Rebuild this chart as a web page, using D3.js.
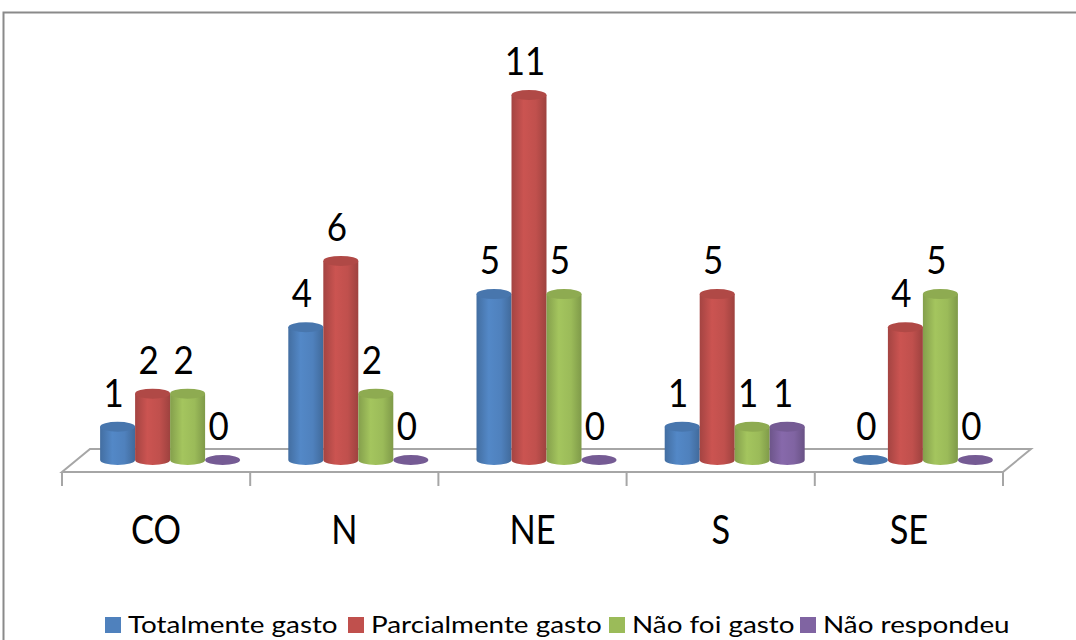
<!DOCTYPE html>
<html>
<head>
<meta charset="utf-8">
<script src="https://cdn.jsdelivr.net/npm/d3@7"></script>
<style>
  html, body { margin: 0; padding: 0; background: #fff; }
  svg { display: block; }
</style>
</head>
<body>
<div id="chart"></div>
<script>
(function () {
    'use strict';
    var w = 1076;
    var h = 640;

    // data
    var categories = ["CO", "N", "NE", "S", "SE"];
    var seriesNames = ["Totalmente gasto", "Parcialmente gasto", "Não foi gasto", "Não respondeu"];
    var totalmente = [1, 4, 5, 1, 0];
    var parcialmente = [2, 6, 11, 5, 4];
    var naoFoi = [2, 2, 5, 1, 5];
    var naoRespondeu = [0, 0, 0, 1, 0];
    var colors = ["#4F81BD", "#C0504D", "#9BBB59", "#8064A2"];

    var seriesValues = [totalmente, parcialmente, naoFoi, naoRespondeu];
    var font = "Lato, 'Open Sans', sans-serif";

    var svg = d3.select("#chart")
        .append("svg")
        .attr("width", w)
        .attr("height", h);

    // chart border (runs off the right/bottom edge)
    svg.append("rect")
        .attr("x", 3.5).attr("y", 12.5)
        .attr("width", 1120).attr("height", 700)
        .attr("fill", "none")
        .attr("stroke", "#8a8a8a")
        .attr("stroke-width", 2);

    // floor geometry
    var front = 472, back = 449, depthX = 28;
    var x = d3.scaleBand().domain(categories).range([62, 1003]);
    var y = d3.scaleLinear().domain([0, 11]).range([460, 95]);

    var floorPts = [[62, front], [1003, front], [1003 + depthX, back], [62 + depthX, back]];
    svg.append("path")
        .attr("d", d3.line()(floorPts) + "Z")
        .attr("fill", "#fff")
        .attr("stroke", "#a6a6a6")
        .attr("stroke-width", 2);

    // category axis ticks
    var tickPos = categories.map(function (c) { return x(c); }).concat([x.range()[1]]);
    svg.selectAll("line.tick")
        .data(tickPos)
        .enter().append("line")
        .attr("class", "tick")
        .attr("x1", function (d) { return d; })
        .attr("x2", function (d) { return d; })
        .attr("y1", front)
        .attr("y2", front + 14)
        .attr("stroke", "#a6a6a6")
        .attr("stroke-width", 2);

    svg.selectAll("text.cat")
        .data(categories)
        .enter().append("text")
        .attr("class", "cat")
        .attr("transform", function (d) {
            return "translate(" + (x(d) + x.bandwidth() / 2) + ",544) scale(0.86,1)";
        })
        .attr("text-anchor", "middle")
        .attr("font-family", font)
        .attr("font-size", "40px")
        .attr("fill", "#000")
        .text(function (d) { return d; });

    // gradients for cylinders
    var defs = svg.append("defs");
    colors.forEach(function (c, i) {
        var base = d3.color(c);
        var g = defs.append("linearGradient")
            .attr("id", "cyl" + i)
            .attr("x1", "0%").attr("x2", "100%")
            .attr("y1", "0%").attr("y2", "0%");
        g.append("stop").attr("offset", "0%").attr("stop-color", base.darker(0.45));
        g.append("stop").attr("offset", "35%").attr("stop-color", base.brighter(0.15));
        g.append("stop").attr("offset", "70%").attr("stop-color", base);
        g.append("stop").attr("offset", "100%").attr("stop-color", base.darker(0.55));
    });

    var barW = 35, ry = 5;
    var groupShift = depthX / 2;

    function barX(ci, si) {
        var center = x(categories[ci]) + x.bandwidth() / 2 + groupShift;
        return center - 2 * barW + si * barW;
    }

    var bars = [];
    seriesValues.forEach(function (vals, si) {
        vals.forEach(function (v, ci) {
            bars.push({ si: si, ci: ci, v: v });
        });
    });
    // draw in order left to right so later bars overlap earlier edges
    bars.sort(function (a, b) { return (a.ci - b.ci) || (a.si - b.si); });

    var g = svg.selectAll("g.bar")
        .data(bars)
        .enter().append("g")
        .attr("class", "bar");

    g.each(function (d) {
        var sel = d3.select(this);
        var x0 = barX(d.ci, d.si);
        var cx = x0 + barW / 2;
        var yb = y(0), yt = y(d.v);
        var rx = barW / 2;
        if (d.v > 0) {
            var p = "M" + x0 + "," + yt +
                "L" + x0 + "," + yb +
                "A" + rx + "," + ry + " 0 0 0 " + (x0 + barW) + "," + yb +
                "L" + (x0 + barW) + "," + yt + "Z";
            sel.append("path")
                .attr("d", p)
                .attr("fill", "url(#cyl" + d.si + ")");
        }
        sel.append("ellipse")
            .attr("cx", cx).attr("cy", yt)
            .attr("rx", rx).attr("ry", ry)
            .attr("fill", d3.color(colors[d.si]).darker(0.25));
    });

    // value labels
    svg.selectAll("text.val")
        .data(bars)
        .enter().append("text")
        .attr("class", "val")
        .attr("transform", function (d) {
            return "translate(" + (barX(d.ci, d.si) + barW / 2 - 4) + "," + (y(d.v) - 20) + ") scale(0.92,1)";
        })
        .attr("text-anchor", "middle")
        .attr("font-family", font)
        .attr("font-size", "38px")
        .attr("fill", "#000")
        .text(function (d) { return d.v; });

    // legend
    var legendX = [105, 348, 609, 800];
    var lg = svg.selectAll("g.legend")
        .data(seriesNames)
        .enter().append("g")
        .attr("class", "legend")
        .attr("transform", function (d, i) { return "translate(" + legendX[i] + ",0)"; });
    lg.append("rect")
        .attr("x", 0).attr("y", 617)
        .attr("width", 16).attr("height", 16)
        .attr("fill", function (d, i) { return colors[i]; });
    lg.append("text")
        .attr("transform", "translate(23,633) scale(1.16,1)")
        .attr("font-family", font)
        .attr("font-size", "24px")
        .attr("fill", "#000")
        .text(function (d) { return d; });
}());
</script>
</body>
</html>
